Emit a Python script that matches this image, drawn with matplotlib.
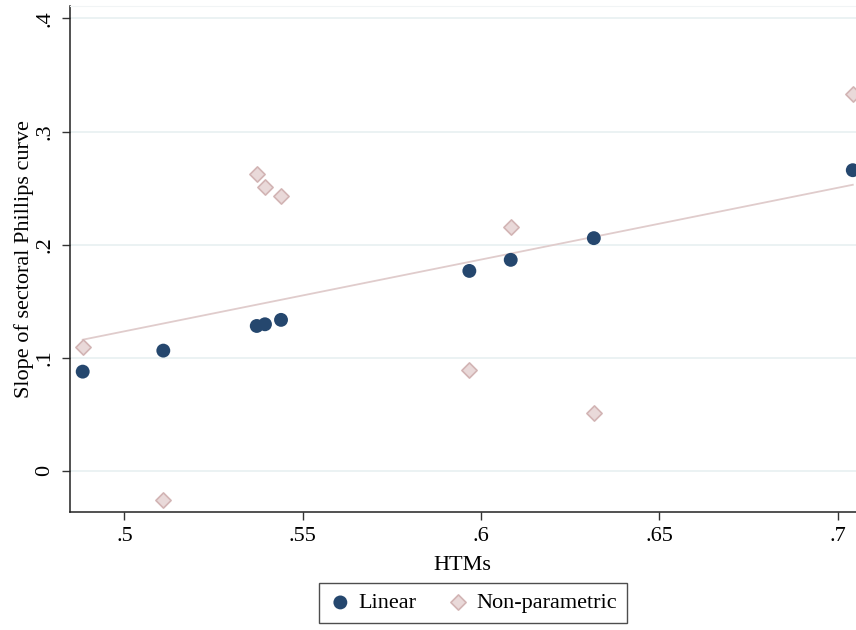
import numpy as np
import matplotlib
matplotlib.use("Agg")
import matplotlib.pyplot as plt
from matplotlib.ticker import FuncFormatter

plt.rcParams['font.family'] = ['Liberation Serif', 'DejaVu Serif']

# HTM share by sector
htms = [0.4883, 0.5109, 0.5371, 0.5394, 0.5439, 0.5967, 0.6083, 0.6316, 0.7042]
# Phillips curve slope estimates
slope_linear = [0.0876, 0.1062, 0.1280, 0.1295, 0.1334, 0.1767, 0.1865, 0.2057, 0.2658]
slope_nonpar = [0.1092, -0.0259, 0.2620, 0.2513, 0.2431, 0.0888, 0.2159, 0.0508, 0.3336]

x_ticks = [0.5, 0.55, 0.6, 0.65, 0.7]
y_ticks = [0.0, 0.1, 0.2, 0.3, 0.4]

navy = '#25476e'
rose_fill = '#e9d9d9'
rose_edge = '#d2b4b4'
grid_col = '#e8f0f1'

fig = plt.figure(figsize=(8.56, 6.30), dpi=100)
ax = fig.add_axes([69.5 / 856, (630 - 511.7) / 630, (856 - 69.5) / 856, (511.7 - 5.5) / 630])

# linear fit through the non-parametric estimates
x = np.array(htms)
b, a = np.polyfit(x, np.array(slope_nonpar), 1)
xs = np.array([x.min(), x.max()])
ax.plot(xs, a + b * xs, color='#e0cccc', lw=1.3, zorder=2)

ax.scatter(htms, slope_linear, s=100, color=navy, edgecolors='none', zorder=4, label='Linear')
ax.scatter(htms, slope_nonpar, s=60, marker='D', color=rose_fill, edgecolors=rose_edge,
           linewidths=1.2, zorder=3, label='Non-parametric')

ax.set_xlim(0.4846, 0.7051)
ax.set_ylim(-0.0363, 0.4115)

ax.set_yticks(y_ticks)
ax.set_xticks(x_ticks)
fmt = FuncFormatter(lambda v, p: '0' if abs(v) < 1e-9 else ('%g' % round(v, 2)).lstrip('0'))
ax.xaxis.set_major_formatter(fmt)
ax.yaxis.set_major_formatter(fmt)
ax.tick_params(axis='both', direction='out', length=6, width=1, color='#333333',
               labelsize=16, pad=5)
for lbl in ax.get_yticklabels():
    lbl.set_rotation(90)
    lbl.set_va('center')

ax.yaxis.grid(True, color=grid_col, lw=1.2)
ax.set_axisbelow(True)

for side in ['left', 'bottom']:
    ax.spines[side].set_color('#222222')
    ax.spines[side].set_linewidth(1.1)
ax.spines['top'].set_color('#f1f4f5')
ax.spines['right'].set_visible(False)

ax.set_xlabel('HTMs', fontsize=16, labelpad=7)
ax.set_ylabel('Slope of sectoral Phillips curve', fontsize=16, labelpad=1)

leg = fig.legend(loc='center', bbox_to_anchor=(473 / 856, 1 - 603 / 630), ncol=2,
                 frameon=True, fancybox=False, fontsize=16, handletextpad=0.3,
                 columnspacing=1.4, borderpad=0.45, handlelength=1.0, scatterpoints=1)
leg.get_frame().set_edgecolor('#222222')
leg.get_frame().set_linewidth(1.0)

fig.savefig('out.png', dpi=100, facecolor='white')
